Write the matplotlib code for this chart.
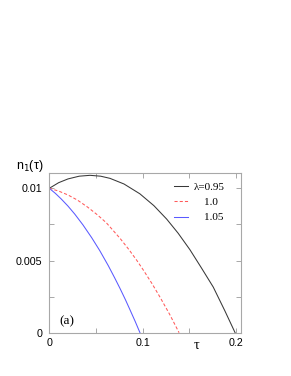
import matplotlib
matplotlib.use("Agg")
import matplotlib.pyplot as plt
from matplotlib.ticker import MultipleLocator

# data
tau_095 = [0.0, 0.010, 0.020, 0.032, 0.0436, 0.055, 0.065, 0.080, 0.097, 0.112, 0.1257, 0.138, 0.1506, 0.163, 0.1756, 0.188, 0.199]
n_095   = [0.0100, 0.01039, 0.01065, 0.01084, 0.01090, 0.01084, 0.01069, 0.01030, 0.00962, 0.00880, 0.00787, 0.00689, 0.00575, 0.00448, 0.00316, 0.00152, 0.0]

tau_100 = [0.0, 0.010, 0.020, 0.030, 0.041, 0.051, 0.061, 0.0757, 0.085, 0.0936, 0.1006, 0.110, 0.1185, 0.129, 0.139]
n_100   = [0.0100, 0.00981, 0.00954, 0.00919, 0.00870, 0.00819, 0.00762, 0.00654, 0.00578, 0.00502, 0.00435, 0.00340, 0.00247, 0.00126, 0.0]

tau_105 = [0.0, 0.0065, 0.0128, 0.020, 0.0272, 0.036, 0.0454, 0.054, 0.0632, 0.070, 0.0757, 0.0815, 0.0864, 0.092, 0.0971]
n_105   = [0.0100, 0.00965, 0.00926, 0.00877, 0.00822, 0.00747, 0.00658, 0.00569, 0.00464, 0.00380, 0.00307, 0.00229, 0.00159, 0.00078, 0.0]

labels = ["\u03bb=0.95", "    1.0", "    1.05"]
xticks = [0, 0.1, 0.2]
xticklabels = ["0", "0.1", "0.2"]
yticks = [0, 0.005, 0.01]
yticklabels = ["0", "0.005", "0.01"]

W, H = 291, 376
fig = plt.figure(figsize=(W / 100, H / 100), dpi=100)
ax = fig.add_axes([49.3 / W, 1 - 332.7 / H, (240.7 - 49.3) / W, (332.7 - 173.3) / H])

frame = "#a8a8a8"
ax.plot(tau_095, n_095, color="#383838", lw=0.75, label=labels[0])
ax.plot(tau_100, n_100, color="#ff5a5a", lw=0.75, ls=(0, (3, 2)), label=labels[1])
ax.plot(tau_105, n_105, color="#5a5aff", lw=0.75, label=labels[2])

ax.set_xlim(0, 0.205)
ax.set_ylim(0, 0.01104)
ax.set_xticks(xticks)
ax.set_xticklabels(xticklabels)
ax.set_yticks(yticks)
ax.set_yticklabels(yticklabels)
ax.xaxis.set_minor_locator(MultipleLocator(0.05))
ax.yaxis.set_minor_locator(MultipleLocator(0.0025))
for s in ax.spines.values():
    s.set_color(frame)
    s.set_linewidth(0.8)
ax.tick_params(which="both", direction="in", top=True, right=True, color=frame,
               width=0.7, labelsize=7.7, labelcolor="black")
ax.tick_params(which="major", length=3.5)
ax.tick_params(which="minor", length=3.5)
ax.tick_params(axis="x", pad=4)
ax.tick_params(axis="y", pad=5)
for t in ax.get_xticklabels() + ax.get_yticklabels():
    t.set_family("Liberation Sans")

leg = fig.legend(loc="upper left", bbox_to_anchor=(174 / W, 1 - 182 / H), frameon=False,
                 prop={"family": "Liberation Serif", "size": 8}, handlelength=1.3,
                 handletextpad=0.45, labelspacing=0.5, borderpad=0, borderaxespad=0)

ax.text(0.1575, -0.0009, "\u03c4", family="Liberation Serif", fontsize=10.5,
        ha="center", va="center", transform=ax.transData)
fig.text(30 / W, 1 - 166 / H, "n$_1$(\u03c4)", family="Liberation Sans", fontsize=9,
         ha="center", va="center")
ax.text(0.0103, 0.00076, "(a)", family="Liberation Serif", fontsize=9.5,
        ha="left", va="center")

fig.savefig("out.png", dpi=100)
